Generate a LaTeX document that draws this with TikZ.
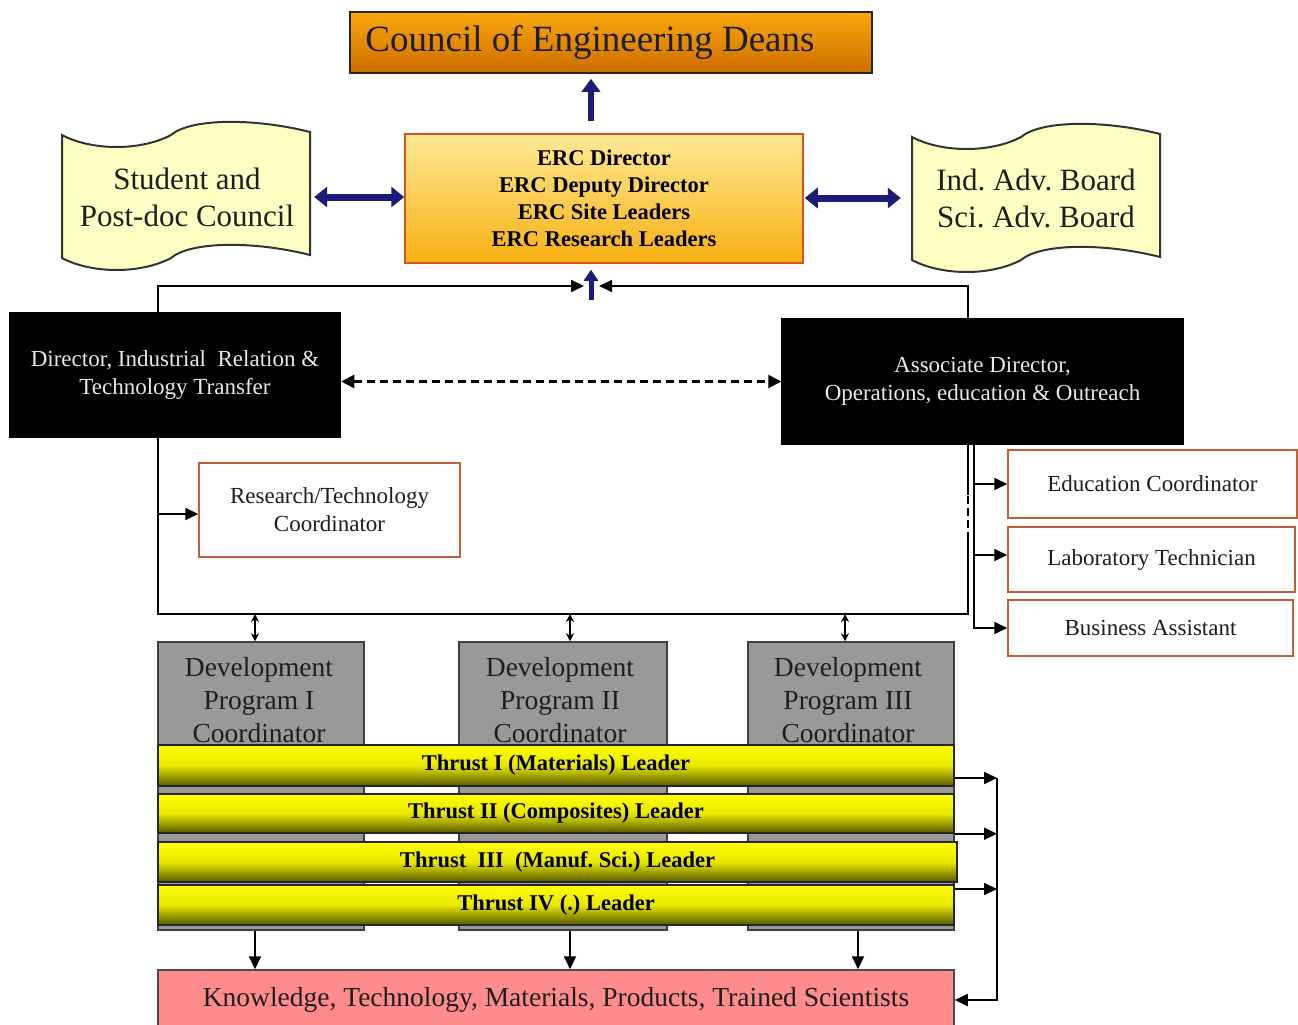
\documentclass[tikz,border=0pt]{standalone}
\usepackage{fontspec}
\setmainfont{Liberation Serif}
\usetikzlibrary{arrows.meta,calc}
\frenchspacing
\definecolor{navyc}{RGB}{28,28,120}
\definecolor{orgtop}{RGB}{250,168,10}
\definecolor{orgbot}{RGB}{205,108,0}
\definecolor{erctop}{RGB}{255,234,150}
\definecolor{ercbot}{RGB}{247,176,18}
\definecolor{ercborder}{RGB}{215,85,25}
\definecolor{tapefill}{RGB}{255,255,196}
\definecolor{rtcborder}{RGB}{192,96,56}
\definecolor{devgray}{RGB}{153,153,153}
\definecolor{ytop}{RGB}{255,255,0}
\definecolor{ymid}{RGB}{232,232,0}
\definecolor{ybot}{RGB}{88,88,0}
\definecolor{knpink}{RGB}{255,140,140}
\definecolor{wtext}{RGB}{232,232,232}
\definecolor{dtext}{RGB}{30,30,30}
\newcommand\FS[2]{\fontsize{#1}{#2}\selectfont}
\tikzset{
  box/.style={inner sep=0pt, align=center, line width=1.5pt},
  tapestyle/.style={fill=tapefill, draw=black!80, line width=2pt},
  tapeshape/.pic={\path[tapestyle] (0,0) .. controls (30,16) and (79,16) .. (109,0)
      .. controls (129,-17) and (193,-17) .. (248,-3) -- (248,120)
      .. controls (193,106) and (129,106) .. (109,123)
      .. controls (79,139) and (30,139) .. (0,123) -- cycle;},
  councilbox/.style={box, draw=black!85, top color=orgtop, bottom color=orgbot,
      minimum width=522pt, minimum height=61pt, font=\FS{37}{40}, text=dtext},
  ercbox/.style={box, draw=ercborder, top color=erctop, bottom color=ercbot,
      minimum width=398pt, minimum height=129pt, font=\FS{22.5}{27}\bfseries, text=black},
  tapetext/.style={inner sep=0pt, align=center, font=\FS{31}{37}, text=dtext},
  blackbox/.style={box, draw=black, fill=black, text=wtext, font=\FS{23}{27.5}},
  rolebox/.style={box, draw=rtcborder, fill=white, text=dtext, font=\FS{23}{28}},
  devbox/.style={box, draw=black!75, fill=devgray, minimum width=206pt, minimum height=288pt},
  devtext/.style={inner sep=0pt, align=center, font=\FS{27.5}{33}, text=dtext},
  thrustbar/.style={box, draw=black!85, top color=ytop, bottom color=ybot, middle color=ymid,
      minimum width=796pt, font=\FS{22.5}{24}\bfseries, text=black},
  knbox/.style={box, draw=black!70, fill=knpink, minimum width=796pt, minimum height=60pt,
      font=\FS{27.5}{30}, text=dtext},
  conn/.style={draw=black, line width=1.8pt},
  arr/.style={conn, -{Triangle[length=13pt,width=12pt]}},
  dasharr/.style={draw=black, line width=2.4pt, dash pattern=on 8pt off 5pt,
      {Triangle[length=13pt,width=13pt]}-{Triangle[length=13pt,width=13pt]}},
  smalldbl/.style={draw=black, line width=1.5pt,
      {Stealth[length=8pt,width=8pt]}-{Stealth[length=8pt,width=8pt]}},
  bluearr/.style={draw=navyc, line width=6pt, -{Triangle[length=13pt,width=18pt]}},
  bluedbl/.style={draw=navyc, line width=7pt,
      {Triangle[length=13pt,width=20pt]}-{Triangle[length=13pt,width=20pt]}},
}
\begin{document}
\begin{tikzpicture}[x=1pt,y=-1pt]
\useasboundingbox[fill=white] (0,0) rectangle (1298,1025);

% top level
\node[councilbox] (cdn) at (611,42.5) {\hspace*{-42pt}Council of Engineering Deans};
\node[ercbox] (erc) at (604,198.5) {ERC Director\\ERC Deputy Director\\ERC Site Leaders\\ERC Research Leaders};

% tapes
\pic at (62,135) {tapeshape};
\pic at (912,137) {tapeshape};
\node[tapetext, minimum width=246pt, minimum height=110pt] (spc) at (187,197) {Student and\\Post-doc Council};
\node[tapetext, minimum width=248pt, minimum height=110pt] (iab) at (1036,198) {Ind. Adv. Board\\Sci. Adv. Board};

% blue arrows
\draw[bluearr, shorten <=12pt, shorten >=5pt] ([xshift=-13pt]erc.north) -- ([xshift=-13pt]erc.north |- cdn.south);
\draw[bluedbl, shorten <=3pt, shorten >=1pt] ([xshift=1pt]spc.east) -- ([xshift=1pt]spc.east -| erc.west);
\draw[bluedbl, shorten <=1pt, shorten >=11pt] (erc.east |- iab.west) -- (iab.west);

% directors
\node[blackbox, minimum width=331pt, minimum height=125pt] (dir) at (175,375)
  {Director, Industrial\ \ Relation \&\\Technology Transfer};
\node[blackbox, minimum width=401pt, minimum height=125pt] (asd) at (982.5,381.5)
  {Associate Director,\\Operations, education \& Outreach};
\draw[dasharr] (dir.east |- asd.west) -- (asd.west);

% hub to ERC
\coordinate (hub) at (591,300);
\coordinate (jl) at (584,286);
\coordinate (jr) at (599,286);
\draw[bluearr, line width=5pt, -{Triangle[length=11pt,width=14pt]}, shorten >=6pt] (hub) -- (hub |- erc.south);
\draw[arr] ([xshift=-17pt]dir.north) |- (jl);
\draw[arr] ([xshift=-14.5pt]asd.north) |- (jr);

% research coordinator and bus
\coordinate (busL) at (158,614);
\coordinate (busR) at (968,614);
\node[rolebox, minimum width=261pt, minimum height=94pt] (rtc) at (329.5,510) {Research/Technology\\Coordinator};
\draw[conn] ([xshift=-17pt]dir.south) -- (busL) -- (busR) -- (968,540);
\draw[conn, dash pattern=on 8pt off 4pt] (968,540) -- (968,495);
\draw[conn] (968,495) -- ([xshift=-14.5pt]asd.south);
\draw[arr] (busL |- 0,514) -- (rtc.west |- 0,514);

% right side roles
\node[rolebox, minimum width=289pt, minimum height=68pt] (edu) at (1152.5,484) {Education Coordinator};
\node[rolebox, minimum width=287pt, minimum height=65pt] (lab) at (1151.5,559.5) {Laboratory Technician};
\node[rolebox, minimum width=285pt, minimum height=56pt] (bsa) at (1150.5,628) {Business Assistant};
\coordinate (rv) at (974,444);
\draw[arr] (rv) |- (edu.west);
\draw[arr] (rv) |- (lab.west |- 0,555);
\draw[arr] (rv) |- (bsa.west);

% development programs
\node[devbox] (d1) at (261,786) {};
\node[devbox, minimum width=208pt] (d2) at (563,786) {};
\node[devbox] (d3) at (851,786) {};
\node[devtext] (d1t) at (259,700.5) {Development\\Program I\\Coordinator};
\node[devtext] (d2t) at (560,700.5) {Development\\Program II\\Coordinator};
\node[devtext] (d3t) at (848,700.5) {Development\\Program III\\Coordinator};
\draw[smalldbl] (busL -| 255,0) -- (d1.north -| 255,0);
\draw[smalldbl] (busL -| 570,0) -- (d2.north -| 570,0);
\draw[smalldbl] (busL -| 845,0) -- (d3.north -| 845,0);

% thrust bars
\node[thrustbar, minimum height=41pt] (t1) at (556,765.5) {Thrust I (Materials) Leader};
\node[thrustbar, minimum height=39pt] (t2) at (556,813.5) {Thrust II (Composites) Leader};
\node[thrustbar, minimum height=40pt, minimum width=799pt] (t3) at (557.5,862) {Thrust\ \ III\ \ (Manuf. Sci.) Leader};
\node[thrustbar, minimum height=40pt] (t4) at (556,905) {Thrust IV (.) Leader};

% knowledge box
\node[knbox] (kn) at (556,1000) {Knowledge, Technology, Materials, Products, Trained Scientists};
\draw[arr] (d1.south -| 255,0) -- (kn.north -| 255,0);
\draw[arr] (d2.south -| 570,0) -- (kn.north -| 570,0);
\draw[arr] (d3.south -| 858,0) -- (kn.north -| 858,0);

% feedback
\coordinate (fb) at (997,778);
\draw[arr] (t1.east |- fb) -- (fb);
\draw[arr] (t2.south east) -- (t2.south east -| fb);
\draw[arr] ([yshift=16pt]t4.east) -- ([yshift=16pt]t4.east -| fb);
\draw[arr] (fb) |- (kn.east);
\end{tikzpicture}
\end{document}
